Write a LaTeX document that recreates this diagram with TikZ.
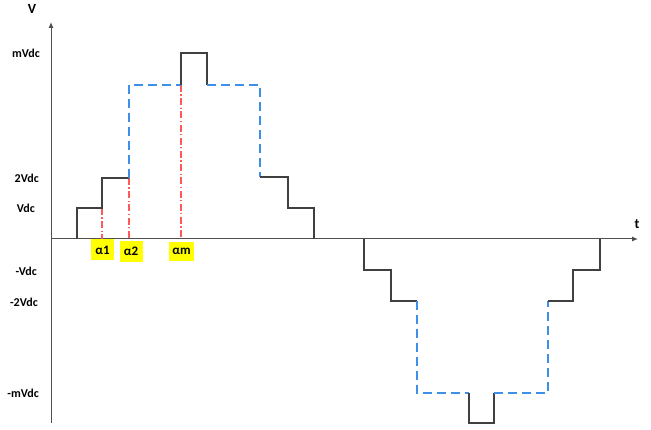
\documentclass[tikz,border=0pt]{standalone}
\usepackage{fontspec}
\setmainfont{Carlito}
\usetikzlibrary{arrows.meta}
\definecolor{stair}{HTML}{404040}
\definecolor{dblue}{HTML}{3D8FE8}
\definecolor{dred}{HTML}{FF5A5A}
\definecolor{axisc}{HTML}{505050}
\definecolor{ybox}{HTML}{FFFF00}
\tikzset{
  axisline/.style={draw=axisc, line width=1pt, -{Latex[length=6pt,width=5pt]}},
  stairline/.style={draw=stair, line width=2pt},
  dashblue/.style={draw=dblue, line width=1.5pt, dash pattern=on 9pt off 5pt},
  redguide/.style={draw=dred, line width=1.1pt, dash pattern=on 7pt off 2.5pt on 1.2pt off 2.5pt},
  lbl/.style={font=\fontsize{12}{14}\selectfont\bfseries, inner sep=0pt, text=black},
  ylbl/.style={lbl, anchor=east},
  alphabox/.style={lbl, font=\fontsize{13}{15}\selectfont\bfseries, fill=ybox, minimum width=23pt, minimum height=21pt}
}
\begin{document}
\begin{tikzpicture}[x=1pt,y=-1pt]
\useasboundingbox (0,0) rectangle (651,430);
% axes
\coordinate (ybot) at (51,423);
\coordinate (ytop) at (51,22);
\coordinate (xl) at (51,239);
\coordinate (xr) at (638,239);
\draw[axisline] (ybot) -- (ytop);
\draw[axisline] (xl) -- (xr);
\node[lbl, font=\fontsize{14}{16}\selectfont\bfseries] (V) at (32,9) {V};
\node[lbl, font=\fontsize{14}{16}\selectfont\bfseries] (t) at (637,224) {t};
% y labels
\node[ylbl] (lm) at (40,53) {mVdc};
\node[ylbl] (l2) at (39,178) {2Vdc};
\node[ylbl] (l1) at (35,208) {Vdc};
\node[ylbl] (ln1) at (37,271) {-Vdc};
\node[ylbl] (ln2) at (38,302) {-2Vdc};
\node[ylbl] (lnm) at (39,393) {-mVdc};
% positive half coordinates
\coordinate (p0) at (77,239);
\coordinate (p1) at (77,208);
\coordinate (p2) at (102,208);
\coordinate (p3) at (102,178);
\coordinate (p4) at (129,178);
\coordinate (p5) at (129,85);
\coordinate (p6) at (181,85);
\coordinate (p7) at (181,53);
\coordinate (p8) at (207,53);
\coordinate (p9) at (207,85);
\coordinate (p10) at (260,85);
\coordinate (p11) at (260,177);
\coordinate (p12) at (288,177);
\coordinate (p13) at (288,208);
\coordinate (p14) at (314,208);
\coordinate (p15) at (314,239);
% guides
\coordinate (g1) at (102,239);
\coordinate (g2) at (129,239);
\coordinate (g3) at (181,239);
\draw[redguide] (p2) -- (g1);
\draw[redguide] (p4) -- (g2);
\draw[redguide] (p6) -- (g3);
\draw[stairline] (p0) -- (p1) -- (p2) -- (p3) -- (p4);
\draw[dashblue] (p4) -- (p5) -- (p6);
\draw[stairline] (p6) -- (p7) -- (p8) -- (p9);
\draw[dashblue] (p9) -- (p10) -- (p11);
\draw[stairline] (p11) -- (p12) -- (p13) -- (p14) -- (p15);
% negative half
\coordinate (n0) at (364,239);
\coordinate (n1) at (364,270);
\coordinate (n2) at (391,270);
\coordinate (n3) at (391,301);
\coordinate (n4) at (417,301);
\coordinate (n5) at (417,393);
\coordinate (n6) at (469,393);
\coordinate (n7) at (469,423);
\coordinate (n8) at (494,423);
\coordinate (n9) at (494,393);
\coordinate (n10) at (548,393);
\coordinate (n11) at (548,301);
\coordinate (n12) at (573,301);
\coordinate (n13) at (573,270);
\coordinate (n14) at (600,270);
\coordinate (n15) at (600,239);
\draw[stairline] (n0) -- (n1) -- (n2) -- (n3) -- (n4);
\draw[dashblue] (n4) -- (n5) -- (n6);
\draw[stairline] (n6) -- (n7) -- (n8) -- (n9);
\draw[dashblue] (n9) -- (n10) -- (n11);
\draw[stairline] (n11) -- (n12) -- (n13) -- (n14) -- (n15);
% alpha labels
\node[alphabox] (a1) at (102.5,250) {α1};
\node[alphabox] (a2) at (131,251.5) {α2};
\node[alphabox, minimum width=25pt, minimum height=19pt] (am) at (181.5,251.5) {αm};
\end{tikzpicture}
\end{document}
